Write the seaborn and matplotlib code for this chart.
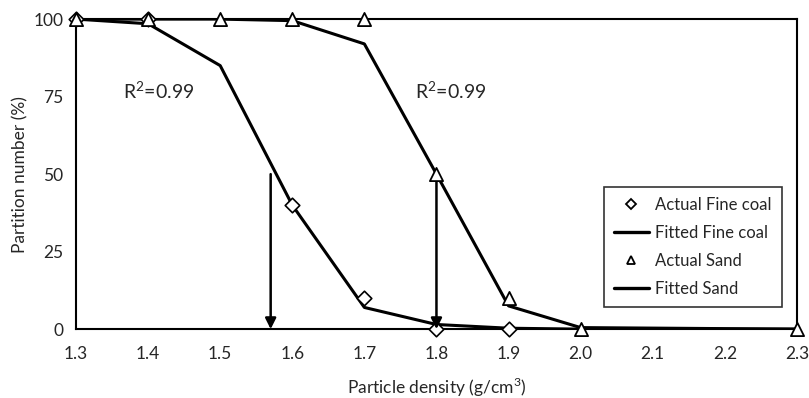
import matplotlib
matplotlib.use("Agg")
import matplotlib.pyplot as plt
import seaborn as sns
import pandas as pd
from matplotlib.lines import Line2D

density = [1.3, 1.4, 1.5, 1.6, 1.7, 1.8, 1.9, 2.0, 2.3]
actual_fine_x = [1.3, 1.4, 1.6, 1.7, 1.8, 1.9]
actual_fine_y = [100, 100, 40, 10, 0, 0]
fitted_fine = [100, 98.5, 85, 40, 7, 1.5, 0.3, 0, 0]
actual_sand = [100, 100, 100, 100, 100, 50, 10, 0, 0]
fitted_sand = [100, 100, 100, 99.5, 92, 50, 7.5, 0.5, 0]
cut_points = [1.57, 1.8]
r2_labels = ["R$^2$=0.99", "R$^2$=0.99"]
r2_pos = [(1.365, 77), (1.77, 77)]
legend_labels = ["Actual Fine coal", "Fitted Fine coal", "Actual Sand", "Fitted Sand"]
xtick_vals = [1.3, 1.4, 1.5, 1.6, 1.7, 1.8, 1.9, 2.0, 2.1, 2.2, 2.3]
xtick_labels = ["1.3", "1.4", "1.5", "1.6", "1.7", "1.8", "1.9", "2.0", "2.1", "2.2", "2.3"]
ytick_vals = [0, 25, 50, 75, 100]

sns.set_theme(style="white")
plt.rcParams['font.family'] = ['Lato', 'DejaVu Sans']
plt.rcParams['mathtext.fontset'] = 'custom'
plt.rcParams['mathtext.rm'] = 'Lato'

fig = plt.figure(figsize=(8.09, 3.98), dpi=100)
ax = fig.add_axes([0.094, 0.173, 0.891, 0.779])

df_fit_fine = pd.DataFrame({"x": density, "y": fitted_fine})
df_fit_sand = pd.DataFrame({"x": density, "y": fitted_sand})
df_act_fine = pd.DataFrame({"x": actual_fine_x, "y": actual_fine_y})
df_act_sand = pd.DataFrame({"x": density, "y": actual_sand})

sns.lineplot(data=df_fit_fine, x="x", y="y", ax=ax, color="black", lw=2.2,
             label="_ff", zorder=2)
sns.lineplot(data=df_fit_sand, x="x", y="y", ax=ax, color="black", lw=2.2,
             label="_fs", zorder=2)
sns.scatterplot(data=df_act_fine, x="x", y="y", ax=ax, marker="D", s=55,
                facecolor="white", edgecolor="black", linewidth=1.2, zorder=3,
                label="_af", clip_on=False)
sns.scatterplot(data=df_act_sand, x="x", y="y", ax=ax, marker="^", s=90,
                facecolor="white", edgecolor="black", linewidth=1.3, zorder=4,
                label="_as", clip_on=False)

for cx in cut_points:
    ax.annotate("", xy=(cx, 0), xytext=(cx, 50),
                arrowprops=dict(arrowstyle="-|>", color="black", lw=1.8,
                                mutation_scale=16, shrinkA=0, shrinkB=0))

for lab, (tx, ty) in zip(r2_labels, r2_pos):
    ax.text(tx, ty, lab, fontsize=14, ha="left", va="center")

handles = [
    Line2D([], [], ls="none", marker="D", markersize=5, mfc="white", mec="black", mew=1.3),
    Line2D([], [], color="black", lw=2.4),
    Line2D([], [], ls="none", marker="^", markersize=6, mfc="white", mec="black", mew=1.3),
    Line2D([], [], color="black", lw=2.4),
]
leg = ax.legend(handles, legend_labels, loc="lower right", bbox_to_anchor=(0.979, 0.071),
                borderaxespad=0, frameon=True, fancybox=False, edgecolor="black",
                fontsize=12, handlelength=2.1, handletextpad=0.4,
                labelspacing=0.72, borderpad=0.6)
leg.get_frame().set_linewidth(1.2)

ax.set_xlim(1.3, 2.3)
ax.set_ylim(0, 100)
ax.set_xticks(xtick_vals)
ax.set_xticklabels(xtick_labels)
ax.set_yticks(ytick_vals)
ax.tick_params(direction="in", length=4, width=1.2, labelsize=12.5, color="black")
ax.tick_params(axis="x", pad=12)
ax.tick_params(axis="y", pad=9)
for sp in ax.spines.values():
    sp.set_color("black")
    sp.set_linewidth(1.5)
ax.set_xlabel("Particle density (g/cm$^3$)", fontsize=12.5, labelpad=10)
ax.set_ylabel("Partition number (%)", fontsize=12.5, labelpad=4)

fig.savefig("out.png", dpi=100)
